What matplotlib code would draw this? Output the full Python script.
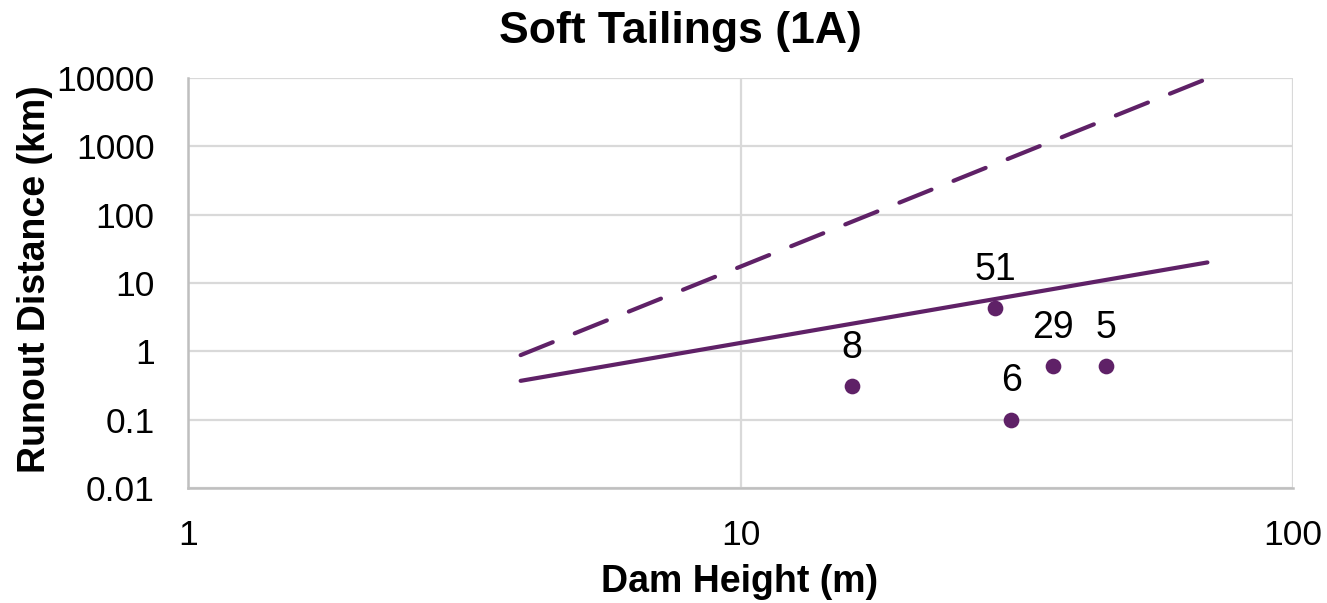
import matplotlib
matplotlib.use("Agg")
import matplotlib.pyplot as plt

plt.rcParams['font.family'] = ['Liberation Sans', 'DejaVu Sans']

# Data
point_labels = ["8", "51", "6", "29", "5"]
dam_height = [15.9, 28.9, 30.9, 36.8, 45.9]
runout = [0.31, 4.3, 0.1, 0.6, 0.6]

line_x = [4.0, 70.0]
solid_y = [0.37, 20.0]
dashed_y = [0.88, 9800.0]

x_ticks = [1, 10, 100]
x_ticklabels = ["1", "10", "100"]
y_ticks = [0.01, 0.1, 1, 10, 100, 1000, 10000]
y_ticklabels = ["0.01", "0.1", "1", "10", "100", "1000", "10000"]

purple = "#5F2167"
W, H = 1327, 603
fig = plt.figure(figsize=(W / 100, H / 100), dpi=100)
ax = fig.add_axes([188 / W, 1 - 488 / H, (1293 - 188) / W, (488 - 78) / H])

ax.set_xscale('log')
ax.set_yscale('log')
ax.set_xlim(1, 100)
ax.set_ylim(0.01, 10000)

ax.set_xticks(x_ticks)
ax.set_xticklabels(x_ticklabels)
ax.set_yticks(y_ticks)
ax.set_yticklabels(y_ticklabels)
ax.minorticks_off()
ax.tick_params(axis='both', length=0, labelsize=25.5, colors='black')
ax.tick_params(axis='x', pad=22)
ax.tick_params(axis='y', pad=24)

ax.grid(True, which='major', color='#D9D9D9', linewidth=1.6)
ax.set_axisbelow(True)
for s in ['top', 'right']:
    ax.spines[s].set_visible(False)
for s in ['left', 'bottom']:
    ax.spines[s].set_color('#BFBFBF')
    ax.spines[s].set_linewidth(1.8)

lw = 3.0
ax.plot(line_x, solid_y, color=purple, lw=lw, solid_capstyle='round', zorder=3)
ax.plot(line_x, dashed_y, color=purple, lw=lw, dash_capstyle='round',
        linestyle=(0, (8.3, 5.7)), zorder=3)

ax.plot(dam_height, runout, 'o', color=purple, markersize=11.3, markeredgewidth=0, zorder=4)
for lab, x, y in zip(point_labels, dam_height, runout):
    ax.annotate(lab, (x, y), xytext=(0, 27.5), textcoords='offset points',
                ha='center', va='center', fontsize=27, color='black')

fig.text(680 / W, 1 - 31 / H, "Soft Tailings (1A)", ha='center', va='center',
         fontsize=32, fontweight='bold')
fig.text(740 / W, 1 - 582 / H, "Dam Height (m)", ha='center', va='center',
         fontsize=27, fontweight='bold')
fig.text(35 / W, 1 - 279 / H, "Runout Distance (km)", ha='center', va='center',
         fontsize=27, fontweight='bold', rotation=90)

fig.savefig("out.png", dpi=100)
